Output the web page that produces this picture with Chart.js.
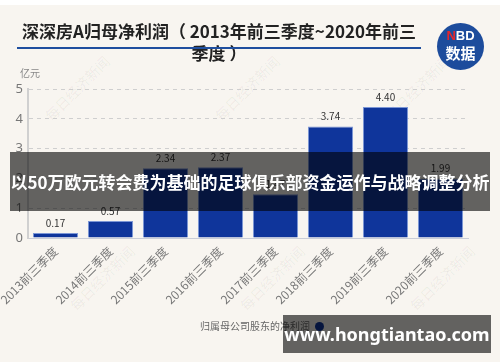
<!DOCTYPE html>
<html><head><meta charset="utf-8">
<script src="https://cdn.jsdelivr.net/npm/chart.js@4"></script>
<style>
html,body{margin:0;padding:0;}
body{width:500px;height:362px;position:relative;overflow:hidden;background:#fff;font-family:"Noto Sans CJK SC","Noto Sans",sans-serif;}
#bg{position:absolute;left:0;top:5px;width:500px;height:357px;background:#f8f5f0;}
#wrap{position:absolute;left:0;top:0;width:500px;height:362px;}
#title{position:absolute;left:17px;top:20px;width:404px;text-align:center;font-size:17px;font-weight:bold;line-height:22px;color:#222;}
#tline{position:absolute;left:17px;top:47px;width:404px;height:2px;background:#1f4f9f;}
#unit{position:absolute;left:20px;top:65px;font-size:10px;color:#888;}
#logo{position:absolute;left:437px;top:23px;width:47px;height:47px;border-radius:50%;background:#1d4c9c;color:#fff;text-align:center;font-weight:bold;}
#logo .n{position:absolute;left:0;top:6px;width:47px;font-family:"Liberation Sans",sans-serif;font-size:13px;line-height:14px;}
#logo .n span{color:#e5262b;}
#logo .s{position:absolute;left:0;top:21px;width:47px;font-size:15px;line-height:17px;}
#legend{position:absolute;left:200px;top:319px;font-size:10px;color:#666;line-height:14px;white-space:nowrap;}
#legend i{display:inline-block;width:9px;height:9px;border-radius:50%;background:#0f359b;vertical-align:-1px;margin-left:5px;}
.ov{position:absolute;background:rgba(0,0,0,0.6);color:#fff;font-weight:bold;white-space:nowrap;text-align:center;}
#ov1{left:10px;top:152px;width:480px;height:59px;line-height:59px;font-size:17px;}
#ov2{left:283px;top:315px;width:208px;height:38px;line-height:38px;font-size:18px;font-family:"Noto Sans","Open Sans",sans-serif;}
.wm{position:absolute;font-size:14px;color:rgba(0,0,0,0.06);transform:rotate(-45deg);white-space:nowrap;font-family:"Noto Sans CJK SC";}
</style></head>
<body>
<div id="bg"></div>
<div class="wm" style="left:35px;top:78px;">每日经济新闻</div>
<div class="wm" style="left:205px;top:78px;">每日经济新闻</div>
<div class="wm" style="left:375px;top:78px;">每日经济新闻</div>
<div class="wm" style="left:60px;top:268px;">每日经济新闻</div>
<div class="wm" style="left:230px;top:268px;">每日经济新闻</div>
<div class="wm" style="left:400px;top:268px;">每日经济新闻</div>
<div id="wrap"><canvas id="c" width="500" height="362"></canvas></div>
<div id="title">深深房A归母净利润（ 2013年前三季度~2020年前三季度 ）</div>
<div id="tline"></div>
<div id="unit">亿元</div>
<div id="logo"><div class="n"><span>N</span>BD</div><div class="s">数据</div></div>
<div id="legend">归属母公司股东的净利润<i></i></div>
<div class="ov" id="ov1">以50万欧元转会费为基础的足球俱乐部资金运作与战略调整分析</div>
<div class="ov" id="ov2">www.hongtiantao.com</div>
<script>
const categories = ["2013前三季度","2014前三季度","2015前三季度","2016前三季度","2017前三季度","2018前三季度","2019前三季度","2020前三季度"];
const netProfit = [0.17, 0.57, 2.34, 2.37, 1.47, 3.74, 4.40, 1.99];
const valueLabels = ["0.17","0.57","2.34","2.37","1.47","3.74","4.40","1.99"];
const seriesName = "归属母公司股东的净利润";

const labelPlugin = {
  id: 'vlabels',
  afterDatasetsDraw(chart) {
    const ctx = chart.ctx;
    const meta = chart.getDatasetMeta(0);
    ctx.save();
    ctx.font = '10px "Noto Sans CJK SC", sans-serif';
    ctx.fillStyle = '#333';
    ctx.textAlign = 'center';
    ctx.textBaseline = 'bottom';
    meta.data.forEach((bar, i) => {
      ctx.fillText(valueLabels[i], bar.x, bar.y - 5);
    });
    ctx.restore();
  }
};

new Chart(document.getElementById('c'), {
  type: 'bar',
  data: {
    labels: categories,
    datasets: [{
      label: seriesName,
      data: netProfit,
      backgroundColor: '#0f359b',
      borderColor: 'rgba(110,140,210,0.9)',
      borderWidth: 1,
      barPercentage: 0.82,
      categoryPercentage: 1
    }]
  },
  options: {
    responsive: false,
    animation: false,
    layout: { padding: { left: 0, top: 89, right: 32, bottom: 0 } },
    plugins: { legend: { display: false }, tooltip: { enabled: false }, title: { display: false } },
    scales: {
      x: {
        grid: { display: false, drawTicks: false },
        border: { color: '#c9cdd8', width: 1 },
        ticks: {
          color: '#777', font: { size: 12, family: '"Noto Sans CJK SC", sans-serif' },
          maxRotation: 45, minRotation: 45, autoSkip: false, padding: 6
        },
        afterFit(s) { s.height = 124; s.paddingLeft = 0; s.paddingRight = 0; }
      },
      y: {
        min: 0, max: 5,
        ticks: { stepSize: 1, color: '#777', font: { size: 13, family: '"Noto Sans", sans-serif' }, padding: 5 },
        grid: { color: '#cfcfcf', drawTicks: false },
        border: { color: '#d0d0d0', width: 2, dash: [4, 4] },
        afterFit(s) { s.width = 28; s.paddingTop = 0; s.paddingBottom = 0; }
      }
    }
  },
  plugins: [labelPlugin]
});
</script>
</body></html>
